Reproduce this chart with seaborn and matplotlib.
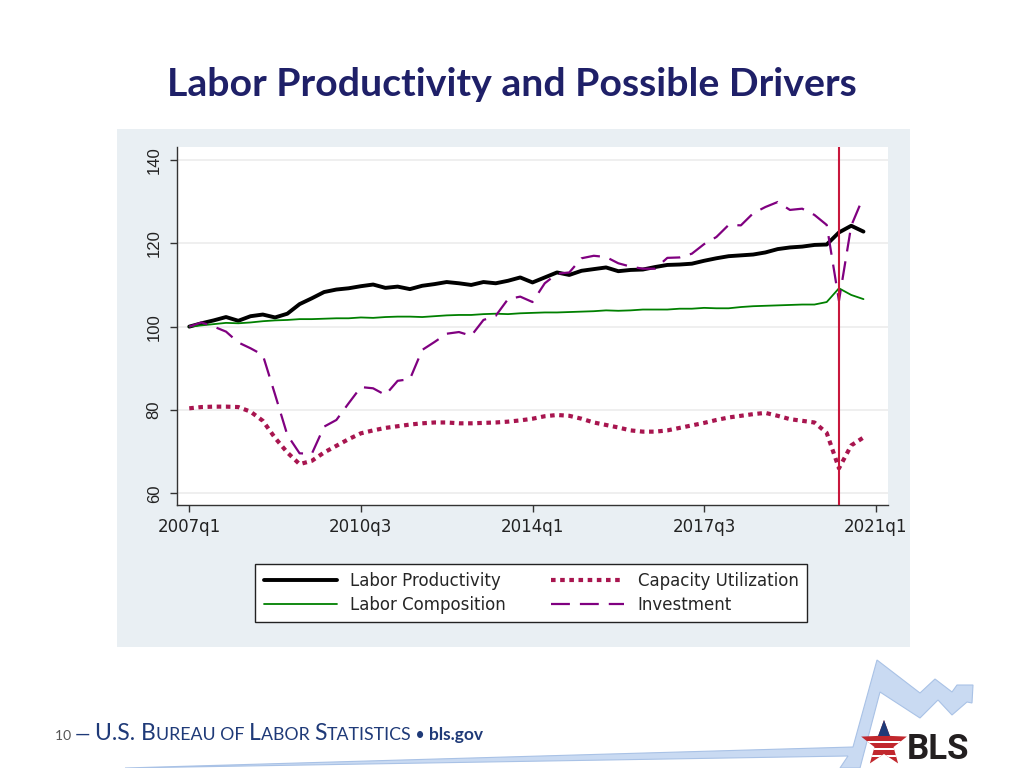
import numpy as np
import pandas as pd
import matplotlib
matplotlib.use("Agg")
import matplotlib.pyplot as plt
from matplotlib.patches import Polygon, Rectangle
import seaborn as sns

# 1. DATA (index, 2007q1 = 100; capacity utilization in percent)
quarters = pd.period_range("2007Q1", "2020Q4", freq="Q").strftime("%Yq%q")

lab_prod = [100.0, 100.8, 101.5, 102.3, 101.4, 102.5, 102.9, 102.2, 103.1, 105.4,
            106.8, 108.3, 108.9, 109.2, 109.7, 110.1, 109.3, 109.6, 109.0, 109.8,
            110.2, 110.7, 110.4, 110.0, 110.7, 110.4, 111.0, 111.8, 110.6, 111.8,
            113.0, 112.4, 113.4, 113.8, 114.2, 113.3, 113.6, 113.7, 114.3, 114.8,
            114.9, 115.1, 115.8, 116.4, 116.9, 117.1, 117.3, 117.8, 118.6, 119.0,
            119.2, 119.6, 119.7, 122.6, 124.2, 122.8]

lab_comp = [100.0, 100.3, 100.6, 100.9, 100.8, 101.0, 101.3, 101.5, 101.6, 101.8,
            101.8, 101.9, 102.0, 102.0, 102.2, 102.1, 102.3, 102.4, 102.4, 102.3,
            102.5, 102.7, 102.8, 102.8, 103.0, 103.1, 103.0, 103.2, 103.3, 103.4,
            103.4, 103.5, 103.6, 103.7, 103.9, 103.8, 103.9, 104.1, 104.1, 104.1,
            104.3, 104.3, 104.5, 104.4, 104.4, 104.7, 104.9, 105.0, 105.1, 105.2,
            105.3, 105.3, 105.9, 109.2, 107.6, 106.6]

cap_util = [80.4, 80.7, 80.8, 80.8, 80.7, 79.6, 77.4, 73.3, 69.8, 67.0,
            67.8, 69.8, 71.4, 73.0, 74.4, 75.1, 75.7, 76.1, 76.5, 76.8,
            77.0, 77.0, 76.8, 76.8, 76.9, 77.0, 77.2, 77.5, 77.9, 78.5,
            78.8, 78.6, 77.9, 77.0, 76.4, 75.8, 75.1, 74.8, 74.8, 75.1,
            75.7, 76.3, 76.9, 77.6, 78.2, 78.6, 79.0, 79.3, 78.6, 77.8,
            77.4, 77.0, 74.5, 66.0, 71.5, 73.4]

investment = [100.0, 101.0, 100.0, 98.8, 96.2, 94.8, 93.2, 83.7, 74.0, 69.6,
              69.5, 76.0, 77.6, 81.6, 85.5, 85.2, 83.6, 87.0, 87.4, 94.4,
              96.3, 98.3, 98.7, 97.8, 101.6, 102.6, 106.6, 107.2, 105.9, 110.4,
              112.7, 113.0, 116.4, 117.0, 116.7, 115.2, 114.4, 113.9, 113.9, 116.5,
              116.6, 117.5, 119.8, 121.5, 124.4, 124.3, 127.2, 128.7, 129.9, 128.0,
              128.3, 126.8, 124.4, 106.2, 124.2, 131.2]

tick_labels = ["2007q1", "2010q3", "2014q1", "2017q3", "2021q1"]
y_ticks = [60, 80, 100, 120, 140]
covid_quarter = "2020q2"

df = pd.DataFrame({
    "t": np.arange(len(quarters)),
    "Labor Productivity": lab_prod,
    "Labor Composition": lab_comp,
    "Capacity Utilization": cap_util,
    "Investment": investment,
})
qlist = list(quarters)

# 2. STYLE
sns.set_style("white")
plt.rcParams["font.family"] = ["Liberation Sans", "DejaVu Sans"]

W, H = 1024, 768
fig = plt.figure(figsize=(W / 100, H / 100), dpi=100)
fig.patch.set_facecolor("white")


def px(x, y):
    return x / W, 1 - y / H


# grey-blue panel behind the chart (Stata graph region)
fig.add_artist(Rectangle(px(117, 647), 793 / W, 518 / H, transform=fig.transFigure,
                         facecolor="#E9EFF3", edgecolor="none", zorder=0))

ax = fig.add_axes([177 / W, 1 - 505 / H, 711 / W, 358 / H])
ax.set_facecolor("white")

styles = {
    "Labor Productivity":   dict(color="black",   lw=2.8, ls="-"),
    "Labor Composition":    dict(color="#008000", lw=1.3, ls="-"),
    "Capacity Utilization": dict(color="#A8154F", lw=3.0, ls=(0, (1.1, 1.1))),
    "Investment":           dict(color="#800080", lw=1.6, ls=(0, (8.5, 4.5))),
}
for name, st in styles.items():
    sns.lineplot(data=df, x="t", y=name, ax=ax, color=st["color"], lw=st["lw"],
                 linestyle=st["ls"], label=name, legend=False)

ax.axvline(qlist.index(covid_quarter), color="#C8173C", lw=1.5, zorder=5)

# 3. AXES
ax.set_xlim(-1, 57)
ax.set_ylim(57.2, 143.1)
# 2021q1 lies one quarter past the last observation
ax.set_xticks([qlist.index(q) if q in qlist else len(qlist) for q in tick_labels])
ax.set_xticklabels(tick_labels, fontsize=12, family="DejaVu Sans", color="#222222")
ax.set_yticks(y_ticks)
ax.set_yticklabels([str(v) for v in y_ticks], fontsize=12, rotation=90,
                   va="center", color="#222222")
ax.set_xlabel("")
ax.set_ylabel("")
ax.grid(axis="y", color="#ECECEC", lw=1.2)
ax.grid(axis="x", visible=False)
ax.set_axisbelow(True)
for side in ["top", "right"]:
    ax.spines[side].set_visible(False)
for side in ["left", "bottom"]:
    ax.spines[side].set_color("#333333")
    ax.spines[side].set_linewidth(1.0)
ax.tick_params(axis="both", direction="out", length=5, width=1, color="#333333",
               left=True, bottom=True)
ax.tick_params(axis="x", pad=4)
ax.tick_params(axis="y", pad=6)

# 4. LEGEND
order = ["Labor Productivity", "Labor Composition", "Capacity Utilization", "Investment"]
handles = {l.get_label(): l for l in ax.get_lines()}
leg = fig.legend([handles[n] for n in order], order, ncol=2, loc="center",
                 bbox_to_anchor=(531 / W, 1 - 593 / H), frameon=True, fancybox=False,
                 prop={"family": "DejaVu Sans", "size": 12}, handlelength=4.4,
                 handletextpad=0.8, columnspacing=2.7, labelspacing=0.35,
                 borderpad=0.5, borderaxespad=0)
leg.get_frame().set_edgecolor("#222222")
leg.get_frame().set_linewidth(1.0)
leg.get_frame().set_facecolor("white")
leg.get_frame().set_alpha(1)

# 5. TITLE
fig.text(0.5, 1 - 84 / H, "Labor Productivity and Possible Drivers", ha="center",
         va="center", fontsize=28.3, weight="bold", family="Lato", color="#1F2068")

# 6. FOOTER
r = fig.canvas.get_renderer()
navy = "#1F3A78"
parts = [("10 ", 10, "#555555", "normal"), ("\u2014 ", 14, navy, "normal"),
         ("U.S. B", 16.5, navy, "normal"), ("UREAU OF ", 12.8, navy, "normal"),
         ("L", 16.5, navy, "normal"), ("ABOR ", 12.8, navy, "normal"),
         ("S", 16.5, navy, "normal"), ("TATISTICS", 12.8, navy, "normal"),
         (" \u2022 ", 12, navy, "normal"), ("bls.gov", 12.5, navy, "bold")]
x0 = 55
for s, size, col, wt in parts:
    t = fig.text(x0 / W, 1 - 740 / H, s, fontsize=size, color=col, weight=wt,
                 family="Lato", va="baseline")
    x0 += t.get_window_extent(renderer=r).width

# 7. BLS LOGO (decoration)
swoosh = [(125, 768), (853, 747), (877, 660), (920, 693), (935, 679), (952, 692),
          (957, 685), (973, 685), (972, 703), (967, 702), (952, 715), (938, 700),
          (920, 718), (880, 692), (860, 768), (840, 768), (848, 756)]
fig.add_artist(Polygon([px(x, y) for x, y in swoosh], closed=True, transform=fig.transFigure,
                       facecolor="#C9DAF2", edgecolor="#A9C2E6", lw=0.8, zorder=1))
ang = np.pi / 2 + np.arange(10) * np.pi / 5
rad = np.where(np.arange(10) % 2 == 0, 24, 10)
star_pts = [px(884 + rr * np.cos(a), 744 - rr * np.sin(a)) for rr, a in zip(rad, ang)]
star = Polygon(star_pts, closed=True, transform=fig.transFigure,
               facecolor="#C1272D", edgecolor="none", zorder=2)
fig.add_artist(star)
# blue top of the star and white stripes
top = Rectangle(px(850, 736), 70 / W, 20 / H, transform=fig.transFigure,
                facecolor="#1F3A78", edgecolor="none", zorder=3)
fig.add_artist(top)
top.set_clip_path(star)
for yy in [743, 750, 757]:
    s = Rectangle(px(850, yy), 70 / W, 2.0 / H, transform=fig.transFigure,
                  facecolor="white", edgecolor="none", zorder=3)
    fig.add_artist(s)
    s.set_clip_path(star)
fig.text(px(907, 0)[0], 1 - 759 / H, "BLS", fontsize=25, weight="bold", family="Roboto",
         color="#231F20", va="baseline")

fig.savefig("out.png", dpi=100)
